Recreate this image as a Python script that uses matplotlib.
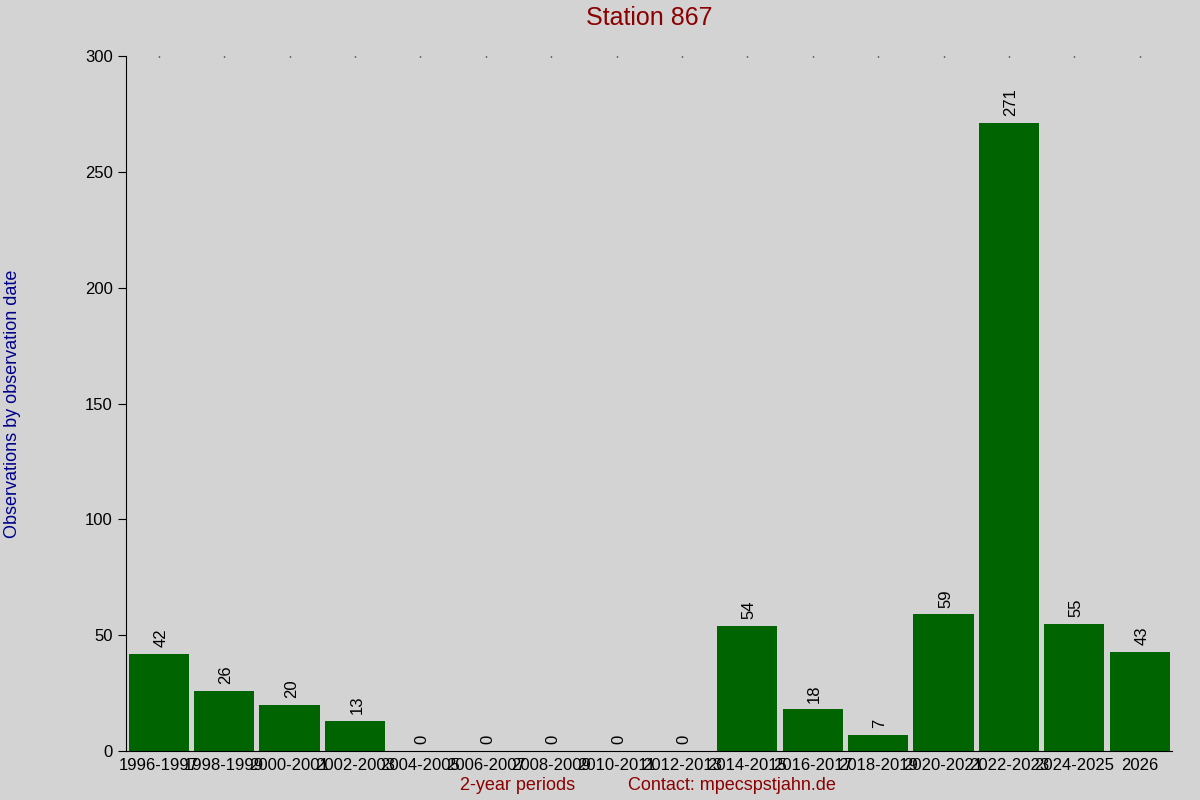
import matplotlib.pyplot as plt
import numpy as np

periods = ['1996-1997', '1998-1999', '2000-2001', '2002-2003', '2004-2005',
           '2006-2007', '2008-2009', '2010-2011', '2012-2013', '2014-2015',
           '2016-2017', '2018-2019', '2020-2021', '2022-2023', '2024-2025', '2026']
counts = [42, 26, 20, 13, 0, 0, 0, 0, 0, 54, 18, 7, 59, 271, 55, 43]

plt.rcParams['font.family'] = ['Liberation Sans', 'DejaVu Sans']

bg = '#d3d3d3'
fig = plt.figure(figsize=(12, 8), dpi=100, facecolor=bg)
ax = fig.add_axes([0.105, 0.061, 0.872, 0.869])
ax.set_facecolor(bg)

x = np.arange(len(periods))
ax.bar(x, counts, width=0.92, color='#006400')
for xi, c in zip(x, counts):
    ax.text(xi + 0.03, c + 3, str(c), rotation=90, ha='center', va='bottom', fontsize=12)

ax.set_xlim(-0.5, len(periods) - 0.5)
ax.set_ylim(0, 300)
ax.set_yticks([0, 50, 100, 150, 200, 250, 300])
ax.set_xticks(x)
ax.set_xticklabels(periods, fontsize=12)
ax.tick_params(axis='y', labelsize=12, length=6, direction='out')
ax.tick_params(axis='x', bottom=False, top=True, length=1, width=1, direction='in', pad=5)
ax.spines['top'].set_visible(False)
ax.spines['right'].set_visible(False)

ax.set_title('Station 867', color='#8b0000', fontsize=18, pad=22)
ax.set_ylabel('Observations by observation date', color='#00008b', fontsize=13)
ax.yaxis.set_label_coords(-0.1, 0.5)
fig.text(0.431, 0.012, '2-year periods', color='#8b0000', fontsize=13, ha='center')
fig.text(0.61, 0.012, 'Contact: mpecspstjahn.de', color='#8b0000', fontsize=13, ha='center')

fig.savefig('out.png', dpi=100, facecolor=bg)
